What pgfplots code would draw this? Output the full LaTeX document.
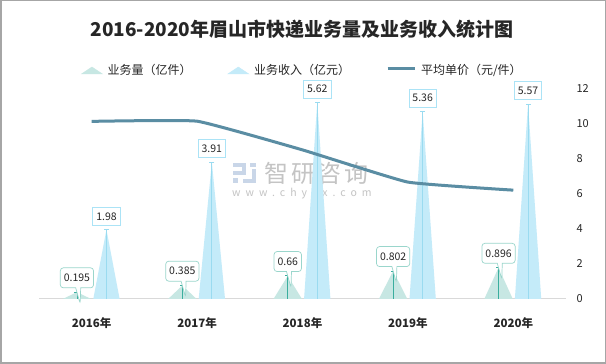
\documentclass[border=0pt]{standalone}
\usepackage{pgfplots}
\pgfplotsset{compat=1.18}
\usepackage{fontspec}
\setmainfont{Noto Sans CJK SC}
\usetikzlibrary{shapes.callouts}
\definecolor{qFill}{HTML}{C7E7E3}
\definecolor{qLine}{HTML}{3AAE9E}
\definecolor{qBox}{HTML}{9AD6CC}
\definecolor{rFill}{HTML}{C4EBF9}
\definecolor{rLine}{HTML}{9ADBF0}
\definecolor{rBox}{HTML}{ABE3F6}
\definecolor{pLine}{HTML}{5A8DA3}
\definecolor{wm}{HTML}{C4C4C4}
\definecolor{wmLogo}{HTML}{C9D6E8}
\definecolor{txt}{HTML}{262626}
\begin{document}
\begin{tikzpicture}[x=1pt,y=1pt]
\path[use as bounding box] (0,0) rectangle (606,364);
\fill[white] (0,0) rectangle (606,364);
% title
\node[font=\fontsize{19}{19}\selectfont\bfseries, text=txt] at (302,335) {2016-2020年眉山市快递业务量及业务收入统计图};
% watermark
\fill[wmLogo] (233,364-163) rectangle (246,364-167);
\fill[wmLogo] (242,364-163) rectangle (246,364-175);
\fill[wmLogo] (233,364-171) rectangle (246,364-175);
\fill[wmLogo] (233,364-178) rectangle (238,364-183);
\fill[wmLogo] (250,364-163) rectangle (256,364-167);
\fill[wmLogo] (252,364-169) rectangle (256,364-183);
\fill[wmLogo] (243,364-179) rectangle (256,364-183);
\node[font=\fontsize{24}{24}\selectfont\addfontfeatures{LetterSpace=12}, text=wm, anchor=west, inner sep=0pt] at (264,364-173) {智研咨询};
\node[font=\fontsize{10.5}{10.5}\selectfont\addfontfeatures{LetterSpace=48}, text=wm, anchor=west, inner sep=0pt] at (232,364-194) {www.chyxx.com};
% bars axis
\begin{axis}[at={(39pt,65pt)}, anchor=south west, width=527pt, height=210pt, scale only axis,
  xmin=-0.5, xmax=4.5, ymin=0, ymax=6, clip=false,
  axis x line*=bottom, axis y line=none,
  x axis line style={draw=black!15, line width=1pt, -},
  xtick={0,1,2,3,4}, xticklabels={2016年,2017年,2018年,2019年,2020年},
  major tick length=0pt,
  xticklabel style={font=\fontsize{11.5}{11.5}\selectfont\bfseries, text=txt, yshift=-15pt},
  nodes near coords style={font=\fontsize{10.5}{10.5}\selectfont, text=txt},
  unbounded coords=jump,
]
\addplot[fill=qFill, draw=none, forget plot] coordinates {(-0.275,0)(-0.14,0.195)(-0.005,0)} -- cycle;
\addplot[fill=qFill, draw=none, forget plot] coordinates {(0.725,0)(0.86,0.385)(0.995,0)} -- cycle;
\addplot[fill=qFill, draw=none, forget plot] coordinates {(1.725,0)(1.86,0.66)(1.995,0)} -- cycle;
\addplot[fill=qFill, draw=none, forget plot] coordinates {(2.725,0)(2.86,0.802)(2.995,0)} -- cycle;
\addplot[fill=qFill, draw=none, forget plot] coordinates {(3.725,0)(3.86,0.896)(3.995,0)} -- cycle;
\addplot[fill=rFill, draw=none, forget plot] coordinates {(0.015,0)(0.14,1.98)(0.265,0)} -- cycle;
\addplot[fill=rFill, draw=none, forget plot] coordinates {(1.015,0)(1.14,3.91)(1.265,0)} -- cycle;
\addplot[fill=rFill, draw=none, forget plot] coordinates {(2.015,0)(2.14,5.62)(2.265,0)} -- cycle;
\addplot[fill=rFill, draw=none, forget plot] coordinates {(3.015,0)(3.14,5.36)(3.265,0)} -- cycle;
\addplot[fill=rFill, draw=none, forget plot] coordinates {(4.015,0)(4.14,5.57)(4.265,0)} -- cycle;
% stems
\addplot[draw=qLine, line width=0.8pt, no marks, forget plot]
  coordinates {(-0.14,0)(-0.14,0.195) (nan,nan) (0.86,0)(0.86,0.385) (nan,nan) (1.86,0)(1.86,0.66) (nan,nan) (2.86,0)(2.86,0.802) (nan,nan) (3.86,0)(3.86,0.896)};
\addplot[only marks, mark=-, mark size=2.5pt, mark options={draw=qLine, line width=0.8pt}, forget plot]
  coordinates {(-0.14,0.195)(0.86,0.385)(1.86,0.66)(2.86,0.802)(3.86,0.896)};
\addplot[draw=rLine, line width=0.8pt, no marks, forget plot]
  coordinates {(0.14,0)(0.14,1.98) (nan,nan) (1.14,0)(1.14,3.91) (nan,nan) (2.14,0)(2.14,5.62) (nan,nan) (3.14,0)(3.14,5.36) (nan,nan) (4.14,0)(4.14,5.57)};
\addplot[only marks, mark=-, mark size=2.5pt, mark options={draw=rLine, line width=0.8pt}, forget plot]
  coordinates {(0.14,1.98)(1.14,3.91)(2.14,5.62)(3.14,5.36)(4.14,5.57)};
% labels
\addplot[draw=none, no marks, forget plot, nodes near coords, point meta=explicit symbolic,
  every node near coord/.append style={anchor=south, yshift=4pt, draw=qBox, fill=white, line width=0.7pt,
    rectangle callout, callout relative pointer={(2pt,-16pt)}, callout pointer width=5pt, rounded corners=3pt,
    inner sep=3.5pt, minimum height=20pt}]
  coordinates {(-0.14,0.195)[0.195] (0.86,0.385)[0.385] (1.86,0.66)[0.66] (2.86,0.802)[0.802] (3.86,0.896)[0.896]};
\addplot[draw=none, no marks, forget plot, nodes near coords, point meta=explicit symbolic,
  every node near coord/.append style={anchor=south, yshift=4pt, draw=rBox, fill=white, line width=0.7pt,
    inner sep=3.5pt, minimum height=18pt}]
  coordinates {(0.14,1.98)[1.98] (1.14,3.91)[3.91] (2.14,5.62)[5.62] (3.14,5.36)[5.36] (4.14,5.57)[5.57]};
\end{axis}
% line axis
\begin{axis}[at={(39pt,65pt)}, anchor=south west, width=527pt, height=210pt, scale only axis,
  xmin=-0.5, xmax=4.5, ymin=0, ymax=12, clip=false,
  axis x line=none, axis y line*=right,
  y axis line style={draw=none},
  ytick={0,2,4,6,8,10,12}, major tick length=0pt,
  /pgf/number format/assume math mode=true,
  yticklabel style={font=\fontsize{11}{11}\selectfont, text=txt, anchor=west, xshift=7pt},
  legend columns=3,
  legend style={at={(0.5,1)}, anchor=center, yshift=19pt, draw=none, fill=none,
    font=\fontsize{12}{12}\selectfont, text=txt,
    /tikz/every even column/.append style={column sep=34pt},
    /tikz/every odd column/.append style={column sep=3pt}},
  legend cell align=left,
]
\addlegendimage{legend image code/.code={\fill[qFill] (0pt,-4pt) -- (10.5pt,3pt) -- (21pt,-4pt) -- cycle;}}
\addlegendentry{业务量（亿件）}
\addlegendimage{legend image code/.code={\fill[rFill] (0pt,-4pt) -- (10.5pt,3pt) -- (21pt,-4pt) -- cycle;}}
\addlegendentry{业务收入（亿元）}
\addplot[smooth, tension=0.2, color=pLine, line width=3pt,
  legend image code/.code={\draw[pLine, line width=3pt] (0pt,1pt) -- (27pt,1pt);}]
  coordinates {(0,10.15)(1,10.16)(2,8.52)(3,6.68)(4,6.22)};
\addlegendentry{平均单价（元/件）}
\end{axis}
\draw[black!35, line width=1.5pt] (0.75,0.75) rectangle (605.25,363.25);
\end{tikzpicture}
\end{document}
